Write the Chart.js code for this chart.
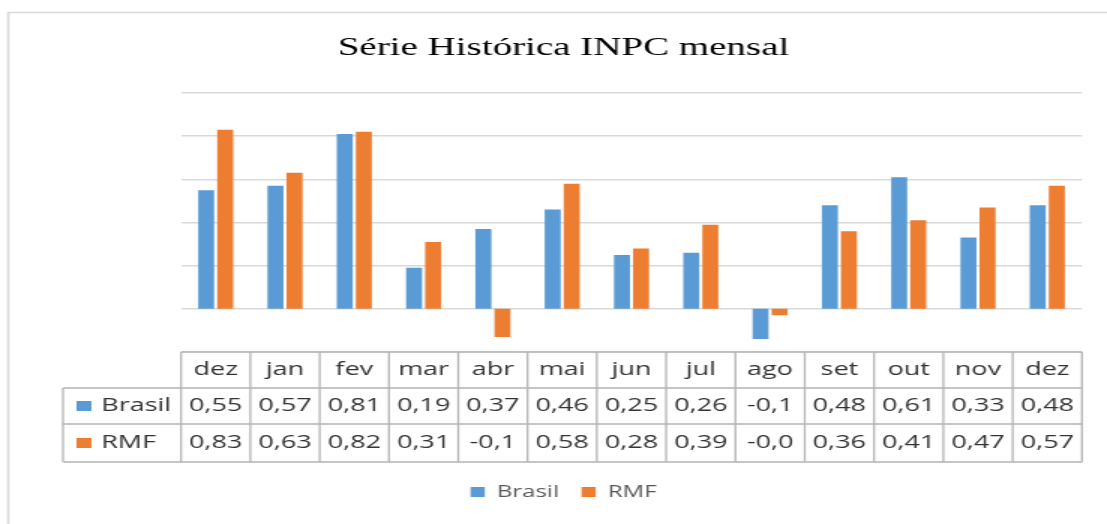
<!DOCTYPE html>
<html>
<head>
<meta charset="utf-8">
<script src="https://cdn.jsdelivr.net/npm/chart.js@4/dist/chart.umd.min.js"></script>
<style>
  html, body { margin: 0; padding: 0; background: #fff; }
  #chart { display: block; }
</style>
</head>
<body>
<canvas id="chart" width="738" height="524" style="width:1107px;height:524px"></canvas>
<script>
const months = ['dez', 'jan', 'fev', 'mar', 'abr', 'mai', 'jun', 'jul', 'ago', 'set', 'out', 'nov', 'dez'];
const brasil = [0.55, 0.57, 0.81, 0.19, 0.37, 0.46, 0.25, 0.26, -0.14, 0.48, 0.61, 0.33, 0.48];
const rmf = [0.83, 0.63, 0.82, 0.31, -0.13, 0.58, 0.28, 0.39, -0.03, 0.36, 0.41, 0.47, 0.57];

const blue = '#5b9bd5';
const orange = '#ed7d31';

// the table cells show the value cut to four characters, like the original sheet
const shown = v => v.toFixed(2).replace('.', ',').slice(0, 4);

// light frame around the whole chart (top and left sides are visible)
const framePlugin = {
    id: 'frame',
    beforeDraw(chart) {
        const ctx = chart.ctx;
        ctx.save();
        ctx.strokeStyle = '#d9d9d9';
        ctx.lineWidth = 1.6;
        ctx.beginPath();
        ctx.moveTo(5.5, 600);
        ctx.lineTo(5.5, 12.5);
        ctx.lineTo(800, 12.5);
        ctx.stroke();
        ctx.restore();
    }
};

// data table under the plot, aligned with the category columns
const tablePlugin = {
    id: 'dataTable',
    afterDraw(chart) {
        const ctx = chart.ctx;
        const x = chart.scales.x;
        const area = chart.chartArea;
        const colW = (x.right - x.left) / months.length;
        const rowY = [area.bottom, area.bottom + 36, area.bottom + 72, area.bottom + 110];
        const labelLeft = 42;

        ctx.save();
        ctx.strokeStyle = '#b4b4b4';
        ctx.lineWidth = 1.3;
        ctx.beginPath();
        ctx.moveTo(x.left, rowY[0]);
        ctx.lineTo(x.right, rowY[0]);
        for (let r = 1; r < rowY.length; r++) {
            ctx.moveTo(labelLeft, rowY[r]);
            ctx.lineTo(x.right, rowY[r]);
        }
        for (let i = 0; i <= months.length; i++) {
            const cx = x.left + i * colW;
            ctx.moveTo(cx, rowY[0]);
            ctx.lineTo(cx, rowY[3]);
        }
        ctx.moveTo(labelLeft, rowY[1]);
        ctx.lineTo(labelLeft, rowY[3]);
        ctx.stroke();

        ctx.font = '18px "Open Sans"';
        ctx.fillStyle = '#333';
        ctx.textAlign = 'center';
        ctx.textBaseline = 'middle';
        const series = [brasil, rmf];
        months.forEach((m, i) => {
            const cx = x.getPixelForValue(i);
            ctx.fillText(m, cx, (rowY[0] + rowY[1]) / 2);
            series.forEach((s, r) => {
                ctx.fillText(shown(s[i]), cx, (rowY[r + 1] + rowY[r + 2]) / 2);
            });
        });

        ctx.textAlign = 'left';
        chart.data.datasets.forEach((ds, r) => {
            const cy = (rowY[r + 1] + rowY[r + 2]) / 2;
            ctx.fillStyle = ds.backgroundColor;
            ctx.fillRect(51, cy - 5, 10, 10);
            ctx.fillStyle = '#333';
            ctx.fillText(ds.label, 67.5, cy);
        });
        ctx.restore();
    }
};

new Chart(document.getElementById('chart'), {
    type: 'bar',
    data: {
        labels: months,
        datasets: [
            { label: 'Brasil', data: brasil, backgroundColor: blue },
            { label: 'RMF', data: rmf, backgroundColor: orange }
        ]
    },
    options: {
        responsive: false,
        animation: false,
        layout: {
            padding: { left: 30.1, right: 16.7, top: 0, bottom: 14 }
        },
        datasets: {
            bar: {
                categoryPercentage: 0.55,
                barPercentage: 0.84,
                borderWidth: 0
            }
        },
        scales: {
            x: {
                grid: { display: false },
                border: { display: false },
                ticks: { display: false },
                afterFit: s => { s.height = 117; }
            },
            y: {
                min: -0.2,
                max: 1.0,
                ticks: { display: false, stepSize: 0.2 },
                grid: { color: '#d9d9d9', lineWidth: 1.5, drawTicks: false },
                border: { display: false },
                afterFit: s => { s.width = 90.6; }
            }
        },
        plugins: {
            title: {
                display: true,
                text: 'Série Histórica INPC mensal',
                color: '#000',
                font: { family: '"Liberation Serif"', size: 26, weight: 'normal' },
                padding: { top: 33, bottom: 28.8 }
            },
            legend: {
                position: 'bottom',
                labels: {
                    boxWidth: 9.5,
                    boxHeight: 10,
                    padding: 15,
                    color: '#595959',
                    font: { family: '"Open Sans"', size: 16 }
                }
            },
            tooltip: { enabled: false }
        }
    },
    plugins: [framePlugin, tablePlugin]
});
</script>
</body>
</html>
